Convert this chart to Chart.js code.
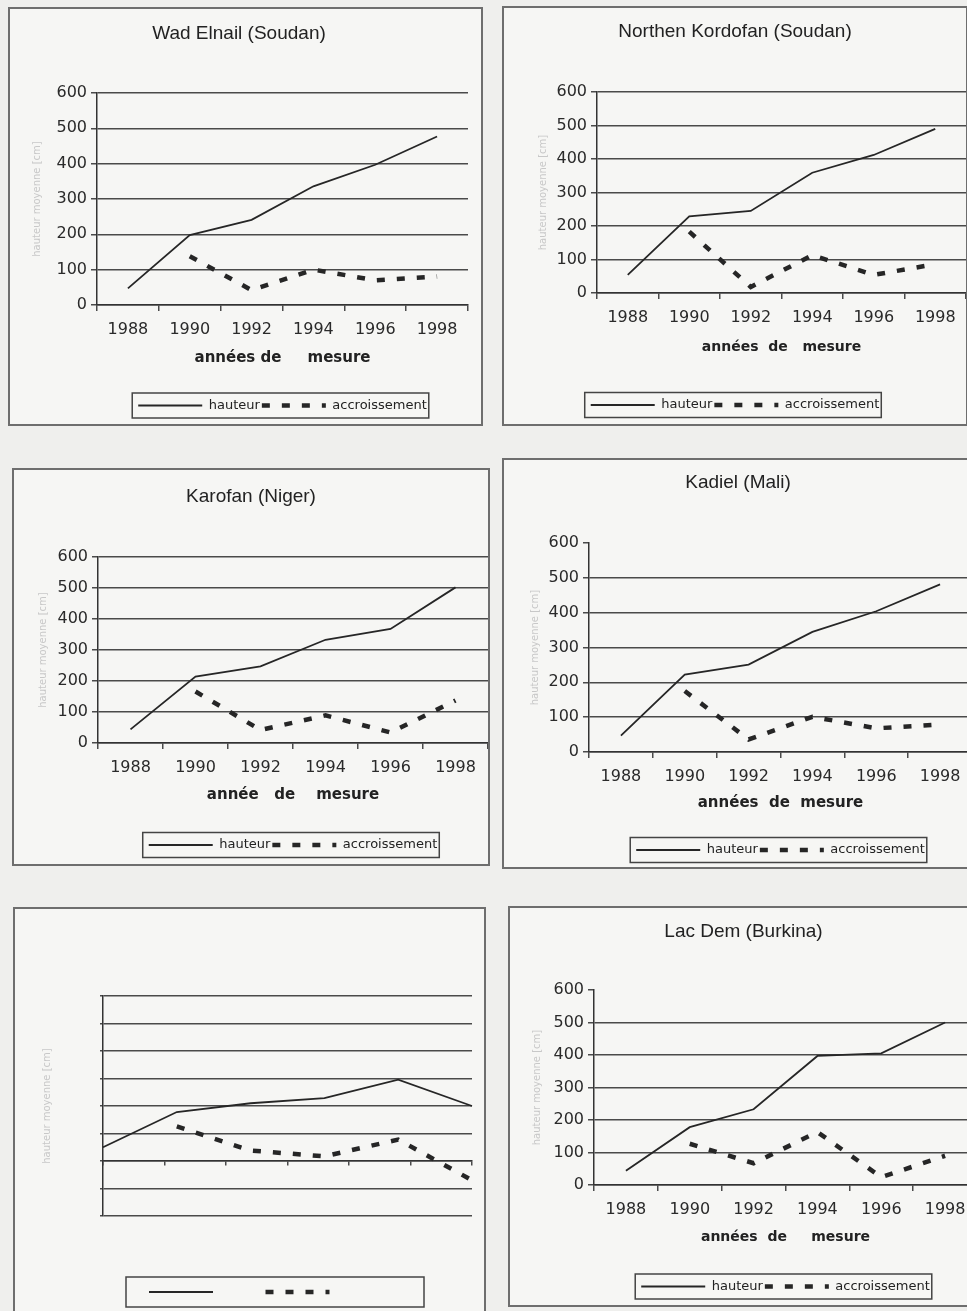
<!doctype html>
<html>

<head>
    <title>hauteur et accroissement</title>
    <meta charset="utf-8" />
    <script src="https://cdn.jsdelivr.net/npm/chart.js@4.4.0/dist/chart.umd.min.js"></script>
    <style>
        body { margin: 0; width: 967px; height: 1311px; position: relative; overflow: hidden; background: #efefed; }
        .cadre { position: absolute; border: 2px solid #6e6e6e; background: #f6f6f4; }
        .cadre canvas { display: block; }
    </style>
</head>

<body>
    <div class="cadre" style="left:8px;top:7px"><canvas id="g1" width="471" height="415"></canvas></div>
    <div class="cadre" style="left:502px;top:6px"><canvas id="g2" width="462" height="416"></canvas></div>
    <div class="cadre" style="left:12px;top:468px"><canvas id="g3" width="474" height="394"></canvas></div>
    <div class="cadre" style="left:502px;top:458px"><canvas id="g4" width="471" height="407"></canvas></div>
    <div class="cadre" style="left:13px;top:907px"><canvas id="g5" width="469" height="406"></canvas></div>
    <div class="cadre" style="left:508px;top:906px"><canvas id="g6" width="476" height="397"></canvas></div>

    <script>
        // valeurs
        const annees = ['1988', '1990', '1992', '1994', '1996', '1998'];
        const graduationsY = [0, 100, 200, 300, 400, 500, 600];
        const graduationsSansTitre = [-200, -100, 0, 100, 200, 300, 400, 500, 600];

        const hauteurWadElnail = [47, 198, 241, 336, 397, 477];
        const accroissementWadElnail = [null, 138, 42, 100, 70, 81];
        const hauteurKordofan = [54, 229, 245, 359, 412, 490];
        const accroissementKordofan = [null, 183, 18, 113, 54, 86];
        const hauteurKarofan = [44, 214, 247, 333, 368, 502];
        const accroissementKarofan = [null, 166, 42, 89, 34, 137];
        const hauteurKadiel = [47, 222, 251, 345, 404, 481];
        const accroissementKadiel = [null, 175, 36, 101, 68, 79];
        const hauteurSansTitre = [50, 178, 210, 229, 296, 200];
        const accroissementSansTitre = [null, 126, 38, 17, 78, -70];
        const hauteurLacDem = [44, 178, 233, 397, 405, 500];
        const accroissementLacDem = [null, 127, 67, 163, 24, 90];

        const grille = '#4a4a4a';
        Chart.defaults.font.family = "'DejaVu Sans', Verdana, sans-serif";
        Chart.defaults.color = '#2a2a2a';

        // cadre autour de la legende, comme dans excel
        const cadreLegende = {
            id: 'cadreLegende',
            afterDraw(chart, args, opts) {
                const boites = chart.legend && chart.legend.legendHitBoxes;
                if (!boites || !boites.length) return;
                const premiere = boites[0], derniere = boites[boites.length - 1];
                const cy = premiere.top + premiere.height / 2;
                const x1 = opts.x1 !== undefined ? opts.x1 : premiere.left - 6;
                const x2 = opts.x2 !== undefined ? opts.x2 : derniere.left + derniere.width + 2;
                const h = opts.h || 25;
                const ctx = chart.ctx;
                ctx.save();
                ctx.strokeStyle = '#444';
                ctx.lineWidth = 1.5;
                ctx.setLineDash([]);
                ctx.strokeRect(x1, cy - h / 2, x2 - x1, h);
                ctx.restore();
            }
        };

        function series(hauteur, accroissement, avecTexte) {
            return [
                {
                    label: avecTexte ? 'hauteur' : '',
                    data: hauteur,
                    borderColor: '#262626',
                    backgroundColor: 'rgba(0,0,0,0)',
                    borderWidth: 1.8,
                    pointRadius: 0,
                    tension: 0
                },
                {
                    label: avecTexte ? 'accroissement' : '',
                    data: accroissement,
                    borderColor: '#262626',
                    backgroundColor: 'rgba(0,0,0,0)',
                    borderWidth: 4.5,
                    borderDash: [8, 12],
                    pointRadius: 0,
                    tension: 0
                }
            ];
        }

        const etiquettesLegende = { boxWidth: 64, boxHeight: 0, padding: 2, color: '#222', font: { size: 13 } };

        function graphique(id, titre, titreAxeX, hauteur, accroissement, m) {
            new Chart(document.getElementById(id), {
                type: 'line',
                data: { labels: annees, datasets: series(hauteur, accroissement, true) },
                options: {
                    responsive: false,
                    animation: false,
                    layout: { padding: { left: 0, right: m.droite, top: 0, bottom: m.bas } },
                    plugins: {
                        title: {
                            display: true, text: titre, color: '#222',
                            font: { family: "'Liberation Sans', Arial, sans-serif", size: 19, weight: 'normal' },
                            padding: m.titre
                        },
                        legend: { position: 'bottom', fullSize: !!m.legendeLarge, labels: etiquettesLegende },
                        tooltip: { enabled: false },
                        cadreLegende: {}
                    },
                    scales: {
                        x: {
                            offset: true,
                            grid: { offset: true, drawOnChartArea: false, tickLength: 6, color: grille, lineWidth: 1.5 },
                            border: { color: '#333', width: 1.5 },
                            ticks: { padding: m.tickPad, font: { size: 16 }, maxRotation: 0, autoSkip: false },
                            title: {
                                display: true, text: titreAxeX, color: '#222',
                                font: { size: m.axeFont, weight: 'bold' },
                                padding: { top: 0, bottom: m.titreXbas }
                            },
                            afterFit: s => { s.height = m.xHaut; }
                        },
                        y: {
                            min: 0, max: 600,
                            afterBuildTicks: s => { s.ticks = graduationsY.map(v => ({ value: v })); },
                            grid: {
                                color: c => (!m.grille600 && c.tick && c.tick.value === 600) ? 'rgba(0,0,0,0)' : grille,
                                tickColor: grille, tickLength: 6, lineWidth: 1.5
                            },
                            border: { color: '#333', width: 1.5 },
                            ticks: { padding: 4, font: { size: 16 } },
                            title: {
                                display: true, text: 'hauteur moyenne [cm]', color: '#c8c8c8',
                                font: { size: 10 }, padding: { top: m.yTitre, bottom: 0 }
                            },
                            afterFit: s => { s.width = m.gauche; }
                        }
                    }
                },
                plugins: [cadreLegende]
            });
        }

        graphique('g1', 'Wad Elnail (Soudan)', 'années de     mesure', hauteurWadElnail, accroissementWadElnail,
            { gauche: 87, droite: 13, bas: 2, titre: { top: 13.6, bottom: 47.6 }, xHaut: 92, tickPad: 9.4, titreXbas: 30, yTitre: 21, grille600: true, axeFont: 15 });
        graphique('g2', 'Northen Kordofan (Soudan)', 'années  de   mesure', hauteurKordofan, accroissementKordofan,
            { gauche: 93, droite: 0, bas: 2.5, titre: { top: 12.6, bottom: 48.6 }, xHaut: 103.5, tickPad: 9.4, titreXbas: 41, yTitre: 33, grille600: true, axeFont: 14, legendeLarge: true });
        graphique('g3', 'Karofan (Niger)', 'année   de    mesure', hauteurKarofan, accroissementKarofan,
            { gauche: 84, droite: 0, bas: 2.5, titre: { top: 15.6, bottom: 48.6 }, xHaut: 93.5, tickPad: 9.4, titreXbas: 32.5, yTitre: 23, grille600: true, axeFont: 15 });
        graphique('g4', 'Kadiel (Mali)', 'années  de  mesure', hauteurKadiel, accroissementKadiel,
            { gauche: 85, droite: 3, bas: 0.5, titre: { top: 11.6, bottom: 48.6 }, xHaut: 89.5, tickPad: 9.4, titreXbas: 29.5, yTitre: 25, grille600: false, axeFont: 15 });
        graphique('g6', 'Lac Dem (Burkina)', 'années  de     mesure', hauteurLacDem, accroissementLacDem,
            { gauche: 84, droite: 9, bas: 2, titre: { top: 12.6, bottom: 46.6 }, xHaut: 93, tickPad: 9.4, titreXbas: 32.6, yTitre: 21, grille600: false, axeFont: 14 });

        // graphique sans titre ni etiquettes, axe des x a zero
        new Chart(document.getElementById('g5'), {
            type: 'line',
            data: { labels: annees, datasets: series(hauteurSansTitre, accroissementSansTitre, false) },
            options: {
                responsive: false,
                animation: false,
                layout: { padding: { left: 0, right: 12, top: 87, bottom: 6.5 } },
                plugins: {
                    title: { display: false },
                    legend: {
                        position: 'bottom', fullSize: false, align: 'start',
                        labels: Object.assign({}, etiquettesLegende, { padding: 46 })
                    },
                    tooltip: { enabled: false },
                    cadreLegende: { x1: 111, x2: 409, h: 30 }
                },
                scales: {
                    x: {
                        position: 'bottom',
                        grid: { display: false }, border: { display: false }, ticks: { display: false },
                        afterFit: s => { s.height = 23.5; }
                    },
                    xZero: {
                        type: 'category', axis: 'x', position: { y: 0 }, offset: true,
                        grid: { offset: true, drawOnChartArea: false, tickLength: 4, color: grille, lineWidth: 1.5 },
                        border: { color: '#333', width: 1.5 },
                        ticks: { display: false }
                    },
                    y: {
                        min: -200, max: 600,
                        afterBuildTicks: s => { s.ticks = graduationsSansTitre.map(v => ({ value: v })); },
                        grid: { color: grille, tickColor: grille, tickLength: 3, lineWidth: 1.5 },
                        border: { color: '#333', width: 1.5 },
                        ticks: { display: false },
                        title: {
                            display: true, text: 'hauteur moyenne [cm]', color: '#c8c8c8',
                            font: { size: 10 }, padding: { top: 26, bottom: 0 }
                        },
                        afterFit: s => { s.width = 88; }
                    }
                }
            },
            plugins: [cadreLegende]
        });
    </script>
</body>

</html>
